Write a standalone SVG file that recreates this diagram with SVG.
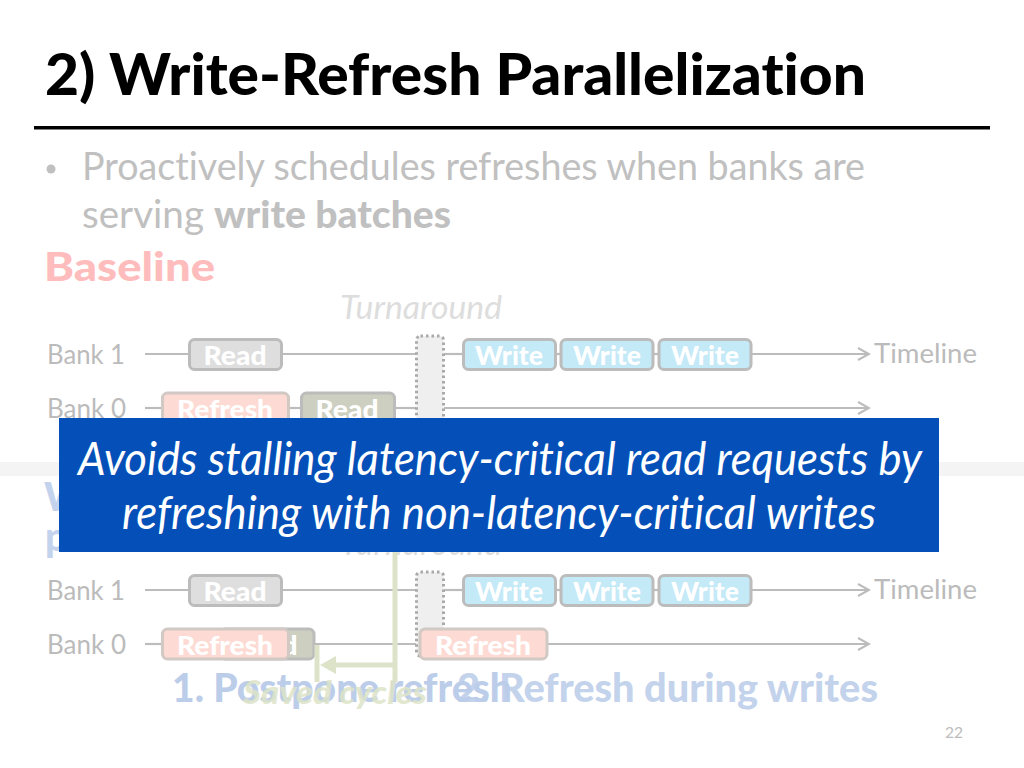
<svg xmlns="http://www.w3.org/2000/svg" width="1024" height="768" viewBox="0 0 1024 768">
<defs>
<marker id="arr" markerUnits="userSpaceOnUse" markerWidth="14" markerHeight="16" refX="12" refY="7" orient="auto"><path d="M1 1 L12 7 L1 13" fill="none" stroke="#bcbcbc" stroke-width="2"/></marker>
</defs>
<style>
text{font-family:Lato,"Open Sans","Liberation Sans",sans-serif;font-variant-ligatures:none}
.line{stroke:#bcbcbc;stroke-width:2.2;fill:none}
.arrow{marker-end:url(#arr)}
.box{stroke:#bcbcbc;stroke-width:3}
.read{fill:#dedede}
.readg{fill:#cdd0c0}
.write{fill:#c4e9f7}
.ref{fill:#fddbd4;stroke:#d2c8c4}
.turn{fill:#efefef;stroke:#a9a9a9;stroke-width:3;stroke-dasharray:2.5 3}
.lbl{font-size:27px;fill:#bbbbbb}
.cell{font-size:27px;font-weight:900;fill:#fff;text-anchor:middle}
.tn{font-size:32px;font-style:italic;fill:#dddddd}
.head{font-size:39px;font-weight:900}
.green{stroke:#dde3c8;fill:none;stroke-width:5}
</style>
<rect width="1024" height="768" fill="#ffffff"/>
<rect x="0" y="462" width="1024" height="14" fill="#f4f4f4"/>
<g id="title"><text x="45" y="95" font-size="57" font-weight="900" fill="#000" textLength="821" lengthAdjust="spacingAndGlyphs">2) Write-Refresh Parallelization</text>
<rect x="34" y="126" width="956" height="3.500" fill="#000"/></g>
<g id="bullets" font-size="38" fill="#c0c0c0">
<circle cx="51" cy="169" r="4.500" fill="#c0c0c0"/>
<text x="82" y="180" textLength="783" lengthAdjust="spacingAndGlyphs">Proactively schedules refreshes when banks are</text>
<text x="82" y="228" textLength="122" lengthAdjust="spacingAndGlyphs">serving</text>
<text x="214" y="228" font-weight="900" textLength="237" lengthAdjust="spacingAndGlyphs">write batches</text>
</g>
<g id="heading-baseline"><text class="head" x="44" y="281" fill="#ffbcbc" textLength="171" lengthAdjust="spacingAndGlyphs">Baseline</text></g>
<g id="heading-wrp"><text class="head" x="44" y="511" fill="#c4d3ed">W</text><text class="head" x="45" y="551" fill="#c4d3ed">p</text></g>

<g id="connectors">
<line class="line" x1="145" y1="354" x2="190" y2="354"/>
<line class="line" x1="282" y1="354" x2="416" y2="354"/>
<line class="line" x1="444" y1="354" x2="463" y2="354"/>
<line class="line" x1="556" y1="354" x2="560" y2="354"/>
<line class="line" x1="654" y1="354" x2="658" y2="354"/>
<line class="line arrow" x1="751" y1="354" x2="869" y2="354"/>
<line class="line" x1="145" y1="408" x2="162" y2="408"/>
<line class="line" x1="289" y1="408" x2="301" y2="408"/>
<line class="line" x1="396" y1="408" x2="416" y2="408"/>
<line class="line arrow" x1="444" y1="408" x2="869" y2="408"/>
<line class="line" x1="145" y1="590" x2="190" y2="590"/>
<line class="line" x1="282" y1="590" x2="416" y2="590"/>
<line class="line" x1="444" y1="590" x2="463" y2="590"/>
<line class="line" x1="556" y1="590" x2="560" y2="590"/>
<line class="line" x1="654" y1="590" x2="658" y2="590"/>
<line class="line arrow" x1="751" y1="590" x2="869" y2="590"/>
<line class="line" x1="145" y1="644" x2="162" y2="644"/>
<line class="line" x1="314" y1="644" x2="416" y2="644"/>
<line class="line arrow" x1="547" y1="644" x2="869" y2="644"/>
</g>

<g id="baseline-diagram">
<text class="lbl" x="47" y="364" textLength="78" lengthAdjust="spacingAndGlyphs">Bank 1</text>
<text class="lbl" x="47" y="418" textLength="79" lengthAdjust="spacingAndGlyphs">Bank 0</text>
<text class="tn" x="340" y="319" textLength="162" lengthAdjust="spacingAndGlyphs">Turnaround</text>
<text class="lbl" x="874" y="363" textLength="103" lengthAdjust="spacingAndGlyphs">Timeline</text>
<g id="b-read1"><rect class="box read" x="189.500" y="339.500" width="92" height="30" rx="5"/><text class="cell" x="235" y="365" textLength="63" lengthAdjust="spacingAndGlyphs">Read</text></g>
<g id="b-turn"><rect class="turn" x="416.500" y="336" width="27" height="100" rx="4"/></g>
<g id="b-write1"><rect class="box write" x="463.500" y="339.500" width="92" height="30" rx="5"/><text class="cell" x="509" y="365" textLength="68" lengthAdjust="spacingAndGlyphs">Write</text></g>
<g id="b-write2"><rect class="box write" x="561" y="339.500" width="92" height="30" rx="5"/><text class="cell" x="607" y="365" textLength="68" lengthAdjust="spacingAndGlyphs">Write</text></g>
<g id="b-write3"><rect class="box write" x="659" y="339.500" width="92" height="30" rx="5"/><text class="cell" x="705" y="365" textLength="68" lengthAdjust="spacingAndGlyphs">Write</text></g>
<g id="b-refresh"><rect class="box ref" x="162.500" y="393" width="126" height="30" rx="5"/><text class="cell" x="225" y="419" textLength="96" lengthAdjust="spacingAndGlyphs">Refresh</text></g>
<g id="b-read0"><rect class="box readg" x="301.500" y="393" width="93" height="30" rx="5"/><text class="cell" x="347" y="419" textLength="63" lengthAdjust="spacingAndGlyphs">Read</text></g>
</g>

<g id="wrp-diagram">
<text class="lbl" x="47" y="600" textLength="78" lengthAdjust="spacingAndGlyphs">Bank 1</text>
<text class="lbl" x="47" y="654" textLength="79" lengthAdjust="spacingAndGlyphs">Bank 0</text>
<text class="tn" x="340" y="555" textLength="162" lengthAdjust="spacingAndGlyphs">Turnaround</text>
<text class="lbl" x="874" y="599" textLength="103" lengthAdjust="spacingAndGlyphs">Timeline</text>
<g id="w-read1"><rect class="box read" x="189.500" y="575.500" width="92" height="30" rx="5"/><text class="cell" x="235" y="601" textLength="63" lengthAdjust="spacingAndGlyphs">Read</text></g>
<g id="w-turn"><rect class="turn" x="416.500" y="572" width="27" height="84" rx="4"/></g>
<g id="w-write1"><rect class="box write" x="463.500" y="575.500" width="92" height="30" rx="5"/><text class="cell" x="509" y="601" textLength="68" lengthAdjust="spacingAndGlyphs">Write</text></g>
<g id="w-write2"><rect class="box write" x="561" y="575.500" width="92" height="30" rx="5"/><text class="cell" x="607" y="601" textLength="68" lengthAdjust="spacingAndGlyphs">Write</text></g>
<g id="w-write3"><rect class="box write" x="659" y="575.500" width="92" height="30" rx="5"/><text class="cell" x="705" y="601" textLength="68" lengthAdjust="spacingAndGlyphs">Write</text></g>
<g id="w-read0"><rect class="box readg" x="220" y="629" width="94" height="30" rx="5"/><text class="cell" x="266" y="655" textLength="63" lengthAdjust="spacingAndGlyphs">Read</text></g>
<g id="w-refresh1"><rect class="box ref" x="162.500" y="629" width="126" height="30" rx="5"/><text class="cell" x="225" y="655" textLength="96" lengthAdjust="spacingAndGlyphs">Refresh</text></g>
<g id="w-refresh2"><rect class="box ref" x="420" y="629" width="127" height="30" rx="5"/><text class="cell" x="483" y="655" textLength="96" lengthAdjust="spacingAndGlyphs">Refresh</text></g>
<g id="saved">
<line class="green" x1="395" y1="552" x2="395" y2="682"/>
<line class="green" x1="317" y1="645" x2="317" y2="682"/>
<line class="green" x1="334" y1="665" x2="395" y2="665"/>
<path d="M320 665 L336 656 L336 674 Z" fill="#dde3c8"/>
</g>
<g id="step1"><text x="172" y="702" font-size="39" font-weight="900" fill="#bccdea" textLength="340" lengthAdjust="spacingAndGlyphs">1. Postpone refresh</text></g>
<g id="step2"><text x="457" y="702" font-size="39" font-weight="900" fill="#bccdea" fill-opacity=".9" textLength="421" lengthAdjust="spacingAndGlyphs">2. Refresh during writes</text></g>
<g id="saved-label"><text x="243" y="704" font-size="32" font-weight="900" font-style="italic" fill="#dde3c8" fill-opacity=".85" textLength="184" lengthAdjust="spacingAndGlyphs">Saved cycles</text></g>
</g>

<g id="callout">
<rect x="59" y="418" width="880" height="134" fill="#0550b8"/>
<text x="500" y="475" font-size="46" font-style="italic" fill="#fff" text-anchor="middle" textLength="844" lengthAdjust="spacingAndGlyphs">Avoids stalling latency-critical read requests by</text>
<text x="499" y="529" font-size="46" font-style="italic" fill="#fff" text-anchor="middle" textLength="754" lengthAdjust="spacingAndGlyphs">refreshing with non-latency-critical writes</text>
</g>
<g id="page-number"><text x="945" y="738" font-size="15" fill="#bdbdbd" textLength="18" lengthAdjust="spacingAndGlyphs">22</text></g>
</svg>
